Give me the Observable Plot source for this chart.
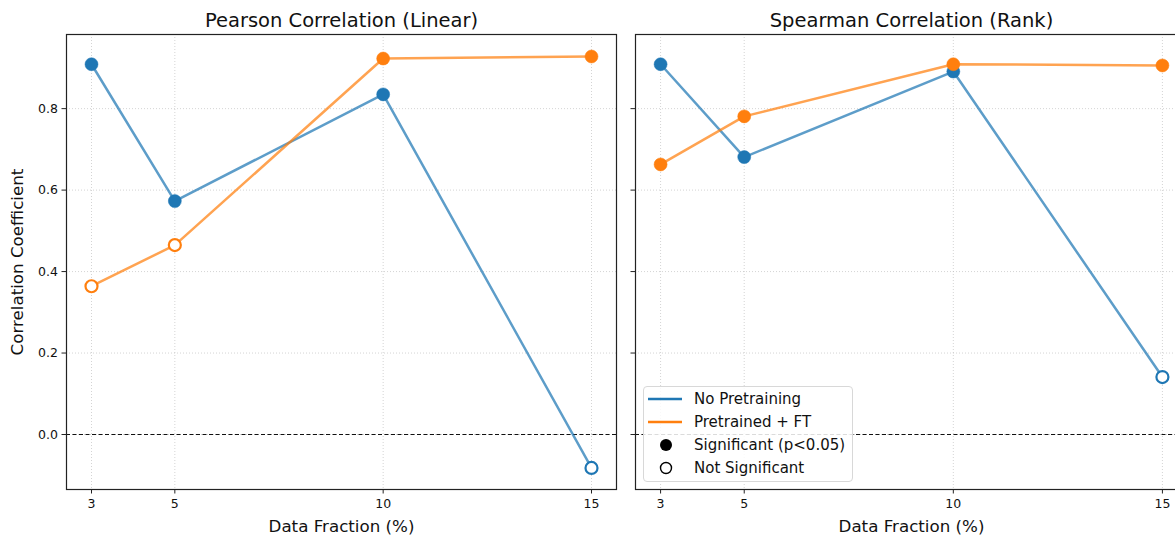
<!DOCTYPE html>
<html>
<head>
<meta charset="utf-8">
<script src="https://cdn.jsdelivr.net/npm/d3@7"></script>
<script src="https://cdn.jsdelivr.net/npm/@observablehq/plot@0.6"></script>
<style>
  html, body { margin: 0; padding: 0; background: #fff; overflow: hidden; width: 1175px; height: 537px; }
  #wrap { display: flex; position: relative; width: 1300px; font-family: "DejaVu Sans", sans-serif; }
  #legend { position: absolute; left: 643px; top: 386px; width: 210px; height: 96px; box-sizing: border-box;
    border: 1px solid #d8d8d8; border-radius: 4px; background: rgba(255,255,255,0.85); font-size: 15px; color: #111; }
  .row { position: absolute; left: 0; height: 20px; display: flex; align-items: center; white-space: nowrap; }
  .row svg { margin-left: 4px; margin-right: 10px; }
</style>
</head>
<body>
<div id="wrap"></div>
<script>
const fractions = [3, 5, 10, 15];
const pearsonNoPre = [0.909, 0.573, 0.835, -0.082];
const pearsonPre = [0.364, 0.465, 0.923, 0.928];
const pearsonNoPreSig = [true, true, true, false];
const pearsonPreSig = [false, false, true, true];
const spearmanNoPre = [0.909, 0.681, 0.891, 0.141];
const spearmanPre = [0.663, 0.781, 0.909, 0.906];
const spearmanNoPreSig = [true, true, true, false];
const spearmanPreSig = [true, true, true, true];
const seriesNames = ["No Pretraining", "Pretrained + FT"];
const colors = ["#1f77b4", "#ff7f0e"];
const yTicks = [0, 0.2, 0.4, 0.6, 0.8];

function rows(vals, sigs, name) {
  return fractions.map((f, i) => ({f, v: vals[i], sig: sigs[i], s: name}));
}

function panel(title, data, showY, mLeft, width) {
  const marks = [
    Plot.ruleX(fractions, {stroke: "#b8b8b8", strokeOpacity: 0.6, strokeDasharray: "1,2"}),
    Plot.ruleY(yTicks, {stroke: "#b8b8b8", strokeOpacity: 0.6, strokeDasharray: "1,2"}),
    Plot.ruleY([0], {stroke: "#111", strokeWidth: 1, strokeDasharray: "4,2.5"}),
  ];
  data.forEach((d, k) => {
    marks.push(Plot.line(d, {x: "f", y: "v", stroke: colors[k], strokeOpacity: 0.72, strokeWidth: 2.5}));
    marks.push(Plot.dot(d.filter(r => r.sig), {x: "f", y: "v", r: 6.5, fill: colors[k], stroke: colors[k], strokeWidth: 0.5}));
    marks.push(Plot.dot(d.filter(r => !r.sig), {x: "f", y: "v", r: 6, fill: "white", stroke: colors[k], strokeWidth: 2.2}));
  });
  marks.push(
    Plot.frame({stroke: "#222", strokeWidth: 1.2}),
    Plot.axisX(fractions, {tickSize: 4.5, tickPadding: 5, fontSize: 12.5, label: null, stroke: "#222"}),
    Plot.axisY(yTicks, {tickSize: 4.5, tickPadding: 4, fontSize: 12.5, label: null, stroke: "#222",
      tickFormat: showY ? (d => d.toFixed(1)) : (() => "")}),
    Plot.text([title], {frameAnchor: "top", lineAnchor: "top", dy: -21, fontSize: 19.5, fill: "#111"}),
    Plot.text(["Data Fraction (%)"], {frameAnchor: "bottom", lineAnchor: "bottom", dy: 42, fontSize: 16.7, fill: "#111"})
  );
  if (showY) {
    marks.push(Plot.text(["Correlation Coefficient"], {frameAnchor: "left", textAnchor: "middle", rotate: -90, dx: -49, fontSize: 16.7, fill: "#111"}));
  }
  return Plot.plot({
    width, height: 537,
    marginLeft: mLeft, marginRight: 10, marginTop: 34, marginBottom: 48,
    style: {fontFamily: "DejaVu Sans, sans-serif", fontSize: "12.5px", color: "#111", background: "white", overflow: "visible"},
    x: {domain: [2.4, 15.6]},
    y: {domain: [-0.135, 0.982]},
    marks
  });
}

const wrap = document.getElementById("wrap");
wrap.appendChild(panel("Pearson Correlation (Linear)",
  [rows(pearsonNoPre, pearsonNoPreSig, seriesNames[0]), rows(pearsonPre, pearsonPreSig, seriesNames[1])], true, 66, 626));
wrap.appendChild(panel("Spearman Correlation (Rank)",
  [rows(spearmanNoPre, spearmanNoPreSig, seriesNames[0]), rows(spearmanPre, spearmanPreSig, seriesNames[1])], false, 9, 571));

// legend
const legendItems = [
  {label: seriesNames[0], type: "line", color: colors[0]},
  {label: seriesNames[1], type: "line", color: colors[1]},
  {label: "Significant (p<0.05)", type: "filled"},
  {label: "Not Significant", type: "open"}
];
const lg = document.createElement("div");
lg.id = "legend";
legendItems.forEach((it, i) => {
  const row = document.createElement("div");
  row.className = "row";
  row.style.top = (2 + i * 23) + "px";
  let sw;
  if (it.type === "line") sw = `<line x1="0" x2="34" y1="10" y2="10" stroke="${it.color}" stroke-width="2.5"/>`;
  else if (it.type === "filled") sw = `<circle cx="18" cy="10" r="6" fill="#000"/>`;
  else sw = `<circle cx="18" cy="10" r="5.5" fill="white" stroke="#000" stroke-width="1.4"/>`;
  row.innerHTML = `<svg width="36" height="20">${sw}</svg><span>${it.label}</span>`;
  lg.appendChild(row);
});
wrap.appendChild(lg);
</script>
</body>
</html>
